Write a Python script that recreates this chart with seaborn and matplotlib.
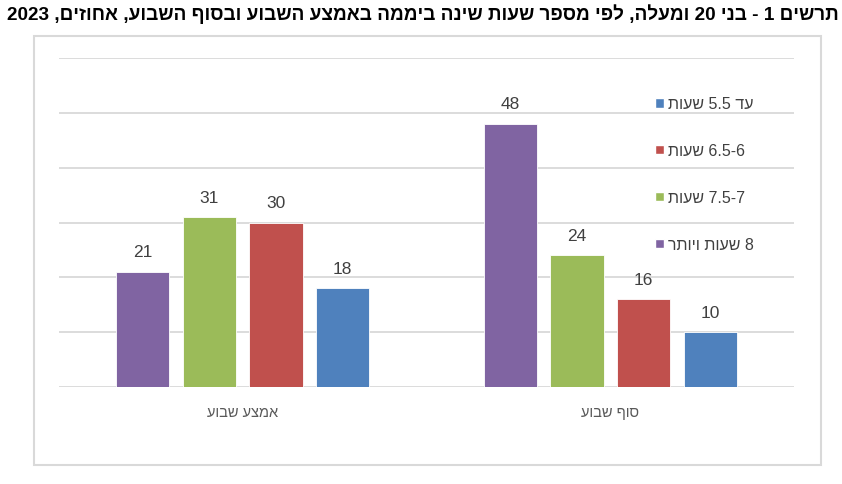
import re
import matplotlib
matplotlib.use("Agg")
import matplotlib.pyplot as plt
from matplotlib.patches import Patch, Rectangle
import pandas as pd
import numpy as np
import seaborn as sns

title = "תרשים 1 - בני 20 ומעלה, לפי מספר שעות שינה ביממה באמצע השבוע ובסוף השבוע, אחוזים, 2023"
periods = ["אמצע שבוע", "סוף שבוע"]
sleep_groups = ["8 שעות ויותר", "7-7.5 שעות", "6-6.5 שעות", "עד 5.5 שעות"]
midweek = [21, 31, 30, 18]
weekend = [48, 24, 16, 10]
colors = ["#8064A2", "#9BBB59", "#C0504D", "#4F81BD"]


def rtl(s):
    # matplotlib has no bidi support: flip hebrew runs, keep numbers as is
    num = r'\d+(?:\.\d+)?'
    parts = re.split('(' + num + ')', s)
    return "".join(p if re.fullmatch(num, p) else p[::-1] for p in reversed(parts))


sns.set_style("white")
plt.rcParams['font.family'] = ['Liberation Sans', 'DejaVu Sans']

df = pd.DataFrame({
    "period": [rtl(p) for p in periods for _ in sleep_groups],
    "sleep": [rtl(g) for _ in periods for g in sleep_groups],
    "pct": midweek + weekend,
})
hue_order = [rtl(g) for g in sleep_groups]

fig = plt.figure(figsize=(8.42, 4.85), dpi=100)
W, H = 842, 485
ax = fig.add_axes([59 / W, 1 - 388 / H, (794 - 59) / W, (388 - 59) / H])

sns.barplot(data=df, x="period", y="pct", hue="sleep", hue_order=hue_order,
            palette=colors, saturation=1, width=0.725, gap=0.2, legend=False,
            edgecolor="white", linewidth=0.6, ax=ax)

for c in ax.containers:
    ax.bar_label(c, padding=9, fontsize=12.5, color="#404040")

ax.set_ylim(0, 60)
ax.set_yticks(np.arange(0, 61, 10))
ax.set_yticklabels([])
ax.yaxis.grid(True, color="#D9D9D9", linewidth=1.3)
ax.set_axisbelow(True)
ax.tick_params(axis="both", length=0)
ax.tick_params(axis="x", pad=13, labelsize=10.5, labelcolor="#595959")
ax.set_xlabel("")
ax.set_ylabel("")
for s in ax.spines.values():
    s.set_visible(False)

handles = [Patch(facecolor=col) for col in colors][::-1]
labels = hue_order[::-1]
ax.legend(handles, labels, loc="upper left",
          bbox_to_anchor=(641 / W, 1 - 83 / H), bbox_transform=fig.transFigure,
          frameon=False, fontsize=11.5, labelcolor="#404040",
          handlelength=0.55, handleheight=0.55, handletextpad=0.25,
          labelspacing=2.0)

fig.patches.append(Rectangle((34 / W, 1 - 466 / H), (821 - 34) / W, (466 - 37) / H,
                             transform=fig.transFigure, fill=False,
                             edgecolor="#D9D9D9", linewidth=1.5))

fig.text(839 / W, 1 - 14 / H, rtl(title), ha="right", va="center",
         fontsize=13.7, fontweight="bold", color="black")

fig.savefig("out.png", dpi=100)
